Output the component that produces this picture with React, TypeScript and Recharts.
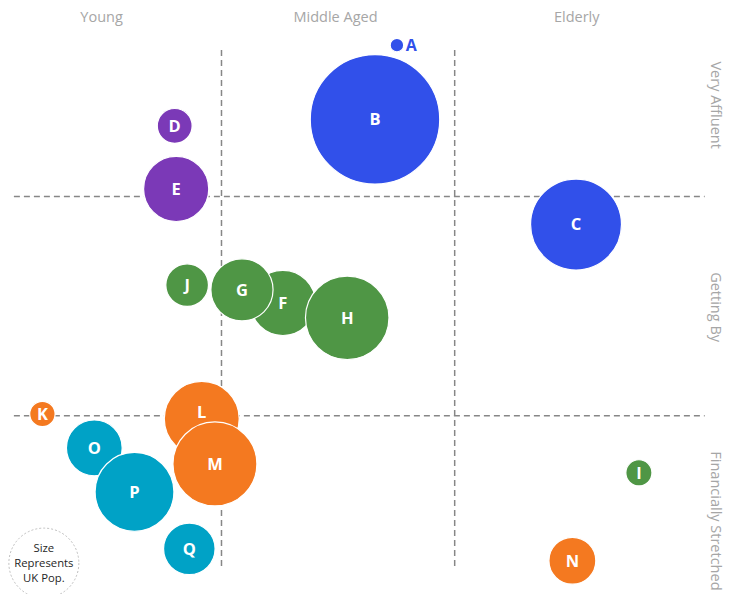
import React from 'react';
import { ScatterChart, Scatter, XAxis, YAxis, ZAxis, ReferenceLine, ReferenceDot } from 'recharts';

// Segment bubbles: x = age score, y = affluence score, pop = share of UK population (%)
type Seg = { name: string; x: number; y: number; pop: number };

const blueSegments: Seg[] = [
  { name: 'A', x: 54.3, y: 92.4, pop: 0.24 },
  { name: 'B', x: 51.3, y: 79.9, pop: 22.1 },
  { name: 'C', x: 78.8, y: 62.2, pop: 10.9 },
];
const purpleSegments: Seg[] = [
  { name: 'D', x: 23.9, y: 78.8, pop: 1.6 },
  { name: 'E', x: 24.1, y: 68.2, pop: 5.6 },
];
const greenSegments: Seg[] = [
  { name: 'J', x: 25.6, y: 52.0, pop: 2.4 },
  { name: 'F', x: 38.7, y: 49.0, pop: 5.6 },
  { name: 'G', x: 33.1, y: 51.2, pop: 5.1 },
  { name: 'H', x: 47.5, y: 46.5, pop: 9.2 },
  { name: 'I', x: 87.4, y: 20.4, pop: 0.9 },
];
const orangeSegments: Seg[] = [
  { name: 'K', x: 5.8, y: 30.3, pop: 0.85 },
  { name: 'L', x: 27.6, y: 29.5, pop: 7.4 },
  { name: 'M', x: 29.4, y: 21.9, pop: 9.3 },
  { name: 'N', x: 78.3, y: 5.6, pop: 2.9 },
];
const tealSegments: Seg[] = [
  { name: 'O', x: 12.9, y: 24.6, pop: 4.1 },
  { name: 'P', x: 18.4, y: 17.2, pop: 8.2 },
  { name: 'Q', x: 25.9, y: 7.6, pop: 3.5 },
];

// Quadrant dividers
const ageDividers = [30.3, 62.2];
const affluenceDividers = [66.9, 30.0];
const vDividerSpan: [number, number] = [4.7, 91.8];
const hDividerSpan: [number, number] = [1.9, 96.4];

// Band headings
const ageBands = [
  { label: 'Young', x: 13.9 },
  { label: 'Middle Aged', x: 45.9 },
  { label: 'Elderly', x: 78.9 },
];
const ageLabelY = 97.2;
const affluenceBands = [
  { label: 'Very Affluent', y: 82.3 },
  { label: 'Getting By', y: 48.3 },
  { label: 'Financially Stretched', y: 12.3 },
];
const affluenceLabelX = 97.9;

const sizeNote = { x: 6.0, y: 5.2, lines: ['Size', 'Represents', 'UK Pop.'] };

const COLORS = {
  blue: '#3150EA',
  purple: '#7B39B7',
  green: '#4F9645',
  orange: '#F47920',
  teal: '#00A2C6',
};

// Lift a letter clear of an overlapping neighbour
const labelLift: Record<string, number> = { L: 7 };

const FONT = '"Open Sans", "Noto Sans", sans-serif';
const GRID = '#878787';
const BAND_TEXT = '#A6A6A6';

const Bubble = (props: any) => {
  const { cx, cy, payload, fill } = props;
  const size = props.size ?? 0;
  const r = props.width ? props.width / 2 : Math.sqrt(size / Math.PI);
  const outside = r < 10;
  const lift = labelLift[payload.name] || 0;
  return (
    <g>
      <circle cx={cx} cy={cy} r={r} fill={fill} stroke="#ffffff" strokeWidth={1.2} />
      {outside ? (
        <text
          x={cx + r + 2}
          y={cy}
          dy="0.36em"
          fill={fill}
          fontFamily={FONT}
          fontWeight={700}
          fontSize={16}
          textAnchor="start"
        >
          {payload.name}
        </text>
      ) : (
        <text
          x={cx}
          y={cy - lift}
          dy="0.36em"
          fill="#ffffff"
          fontFamily={FONT}
          fontWeight={700}
          fontSize={16.5}
          textAnchor="middle"
        >
          {payload.name}
        </text>
      )}
    </g>
  );
};

const makeTopLabel = (text: string) => (p: any) => {
  const vb = p.viewBox || {};
  const x = vb.x + (vb.width || 0) / 2;
  const y = vb.y + (vb.height || 0) / 2;
  return (
    <text x={x} y={y} dy="0.35em" textAnchor="middle" fill={BAND_TEXT} fontFamily={FONT} fontSize={14.5}>
      {text}
    </text>
  );
};

const makeSideLabel = (text: string) => (p: any) => {
  const vb = p.viewBox || {};
  const x = vb.x + (vb.width || 0) / 2;
  const y = vb.y + (vb.height || 0) / 2;
  return (
    <text
      x={x}
      y={y}
      dy="0.35em"
      textAnchor="middle"
      fill={BAND_TEXT}
      fontFamily={FONT}
      fontSize={14.5}
      transform={`rotate(90, ${x}, ${y})`}
    >
      {text}
    </text>
  );
};

const noteLabel = (p: any) => {
  const vb = p.viewBox || {};
  const x = vb.x + (vb.width || 0) / 2;
  const y = vb.y + (vb.height || 0) / 2;
  return (
    <g>
      {sizeNote.lines.map((l, i) => (
        <text
          key={l}
          x={x}
          y={y + (i - 1) * 15}
          dy="0.35em"
          textAnchor="middle"
          fill="#262626"
          fontFamily={FONT}
          fontSize={11.3}
        >
          {l}
        </text>
      ))}
    </g>
  );
};

export default function App() {
  return (
    <div style={{ position: 'absolute', left: 0, top: 0, width: 731, height: 594, background: '#ffffff' }}>
      <ScatterChart width={731} height={594} margin={{ top: 0, right: 0, bottom: 0, left: 0 }}>
        <XAxis type="number" dataKey="x" domain={[0, 100]} hide />
        <YAxis type="number" dataKey="y" domain={[0, 100]} hide />
        <ZAxis type="number" dataKey="pop" domain={[0, 25]} range={[0, 14890]} />

        {ageDividers.map((x) => (
          <ReferenceLine
            key={`v${x}`}
            segment={[
              { x, y: vDividerSpan[0] },
              { x, y: vDividerSpan[1] },
            ]}
            stroke={GRID}
            strokeWidth={1.5}
            strokeDasharray="6 4"
            ifOverflow="visible"
          />
        ))}
        {affluenceDividers.map((y) => (
          <ReferenceLine
            key={`h${y}`}
            segment={[
              { x: hDividerSpan[0], y },
              { x: hDividerSpan[1], y },
            ]}
            stroke={GRID}
            strokeWidth={1.5}
            strokeDasharray="6 4"
            ifOverflow="visible"
          />
        ))}

        {ageBands.map((b) => (
          <ReferenceDot
            key={b.label}
            x={b.x}
            y={ageLabelY}
            r={0}
            fill="none"
            stroke="none"
            ifOverflow="visible"
            label={makeTopLabel(b.label)}
          />
        ))}
        {affluenceBands.map((b) => (
          <ReferenceDot
            key={b.label}
            x={affluenceLabelX}
            y={b.y}
            r={0}
            fill="none"
            stroke="none"
            ifOverflow="visible"
            label={makeSideLabel(b.label)}
          />
        ))}

        <ReferenceDot
          x={sizeNote.x}
          y={sizeNote.y}
          r={35}
          fill="#ffffff"
          stroke="#BFBFBF"
          strokeWidth={1}
          strokeDasharray="2 2"
          ifOverflow="visible"
          label={noteLabel}
        />

        <Scatter data={blueSegments} fill={COLORS.blue} shape={Bubble} isAnimationActive={false} />
        <Scatter data={purpleSegments} fill={COLORS.purple} shape={Bubble} isAnimationActive={false} />
        <Scatter data={greenSegments} fill={COLORS.green} shape={Bubble} isAnimationActive={false} />
        <Scatter data={tealSegments} fill={COLORS.teal} shape={Bubble} isAnimationActive={false} />
        <Scatter data={orangeSegments} fill={COLORS.orange} shape={Bubble} isAnimationActive={false} />
      </ScatterChart>
    </div>
  );
}
